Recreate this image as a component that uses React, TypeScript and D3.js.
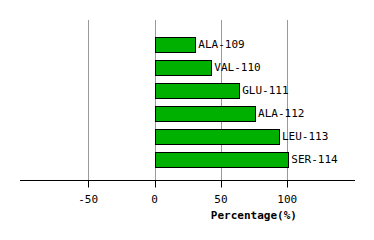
import React from "react";
import * as d3 from "d3";

const residues = ["ALA-109", "VAL-110", "GLU-111", "ALA-112", "LEU-113", "SER-114"];
const percentages = [30, 42, 63, 75, 93, 100];
const tickValues = [-50, 0, 50, 100];
const xLabel = "Percentage(%)";

export default function App() {
  const W = 374, H = 240;
  const x = d3.scaleLinear().domain([-100, 150]).range([21.7, 353.7]);
  const y = d3.scaleBand<string>().domain(residues).range([28.5, 174.5]).paddingInner(0.35).paddingOuter(0.35);
  const axisY = 180.5;
  const font = "'DejaVu Sans Mono', monospace";
  return (
    <svg width={W} height={H} style={{ position: "absolute", left: 0, top: 0 }}>
      <rect width={W} height={H} fill="#fff" />
      {tickValues.map((t) => (
        <line key={"g" + t} x1={Math.round(x(t)) + 0.5} x2={Math.round(x(t)) + 0.5} y1={20} y2={axisY} stroke="#999" strokeWidth={1} />
      ))}
      {residues.map((r, i) => {
        const y0 = y(r)!;
        const bw = y.bandwidth();
        const x0 = x(0), x1 = x(percentages[i]);
        return (
          <g key={r}>
            <rect x={Math.round(x0) + 0.5} y={Math.round(y0) + 0.5} width={Math.round(x1 - x0)} height={Math.round(bw)} fill="#00b000" stroke="#000" strokeWidth={1} />
            <text x={x1 + 4} y={y0 + bw / 2 + 4} fontFamily={font} fontSize={11} fill="#000">{r}</text>
          </g>
        );
      })}
      <line x1={20} x2={355} y1={axisY} y2={axisY} stroke="#000" strokeWidth={1} />
      {tickValues.map((t) => (
        <g key={"t" + t}>
          <line x1={Math.round(x(t)) + 0.5} x2={Math.round(x(t)) + 0.5} y1={axisY} y2={axisY + 7} stroke="#000" strokeWidth={1} />
          <text x={x(t)} y={axisY + 22} textAnchor="middle" fontFamily={font} fontSize={11} fill="#000">{t === -50 ? "\u221250".replace("\u2212", "-") : String(t)}</text>
        </g>
      ))}
      <text x={x(50) + 33} y={axisY + 38} textAnchor="middle" fontFamily={font} fontSize={11} fontWeight="bold" fill="#000">{xLabel}</text>
    </svg>
  );
}
